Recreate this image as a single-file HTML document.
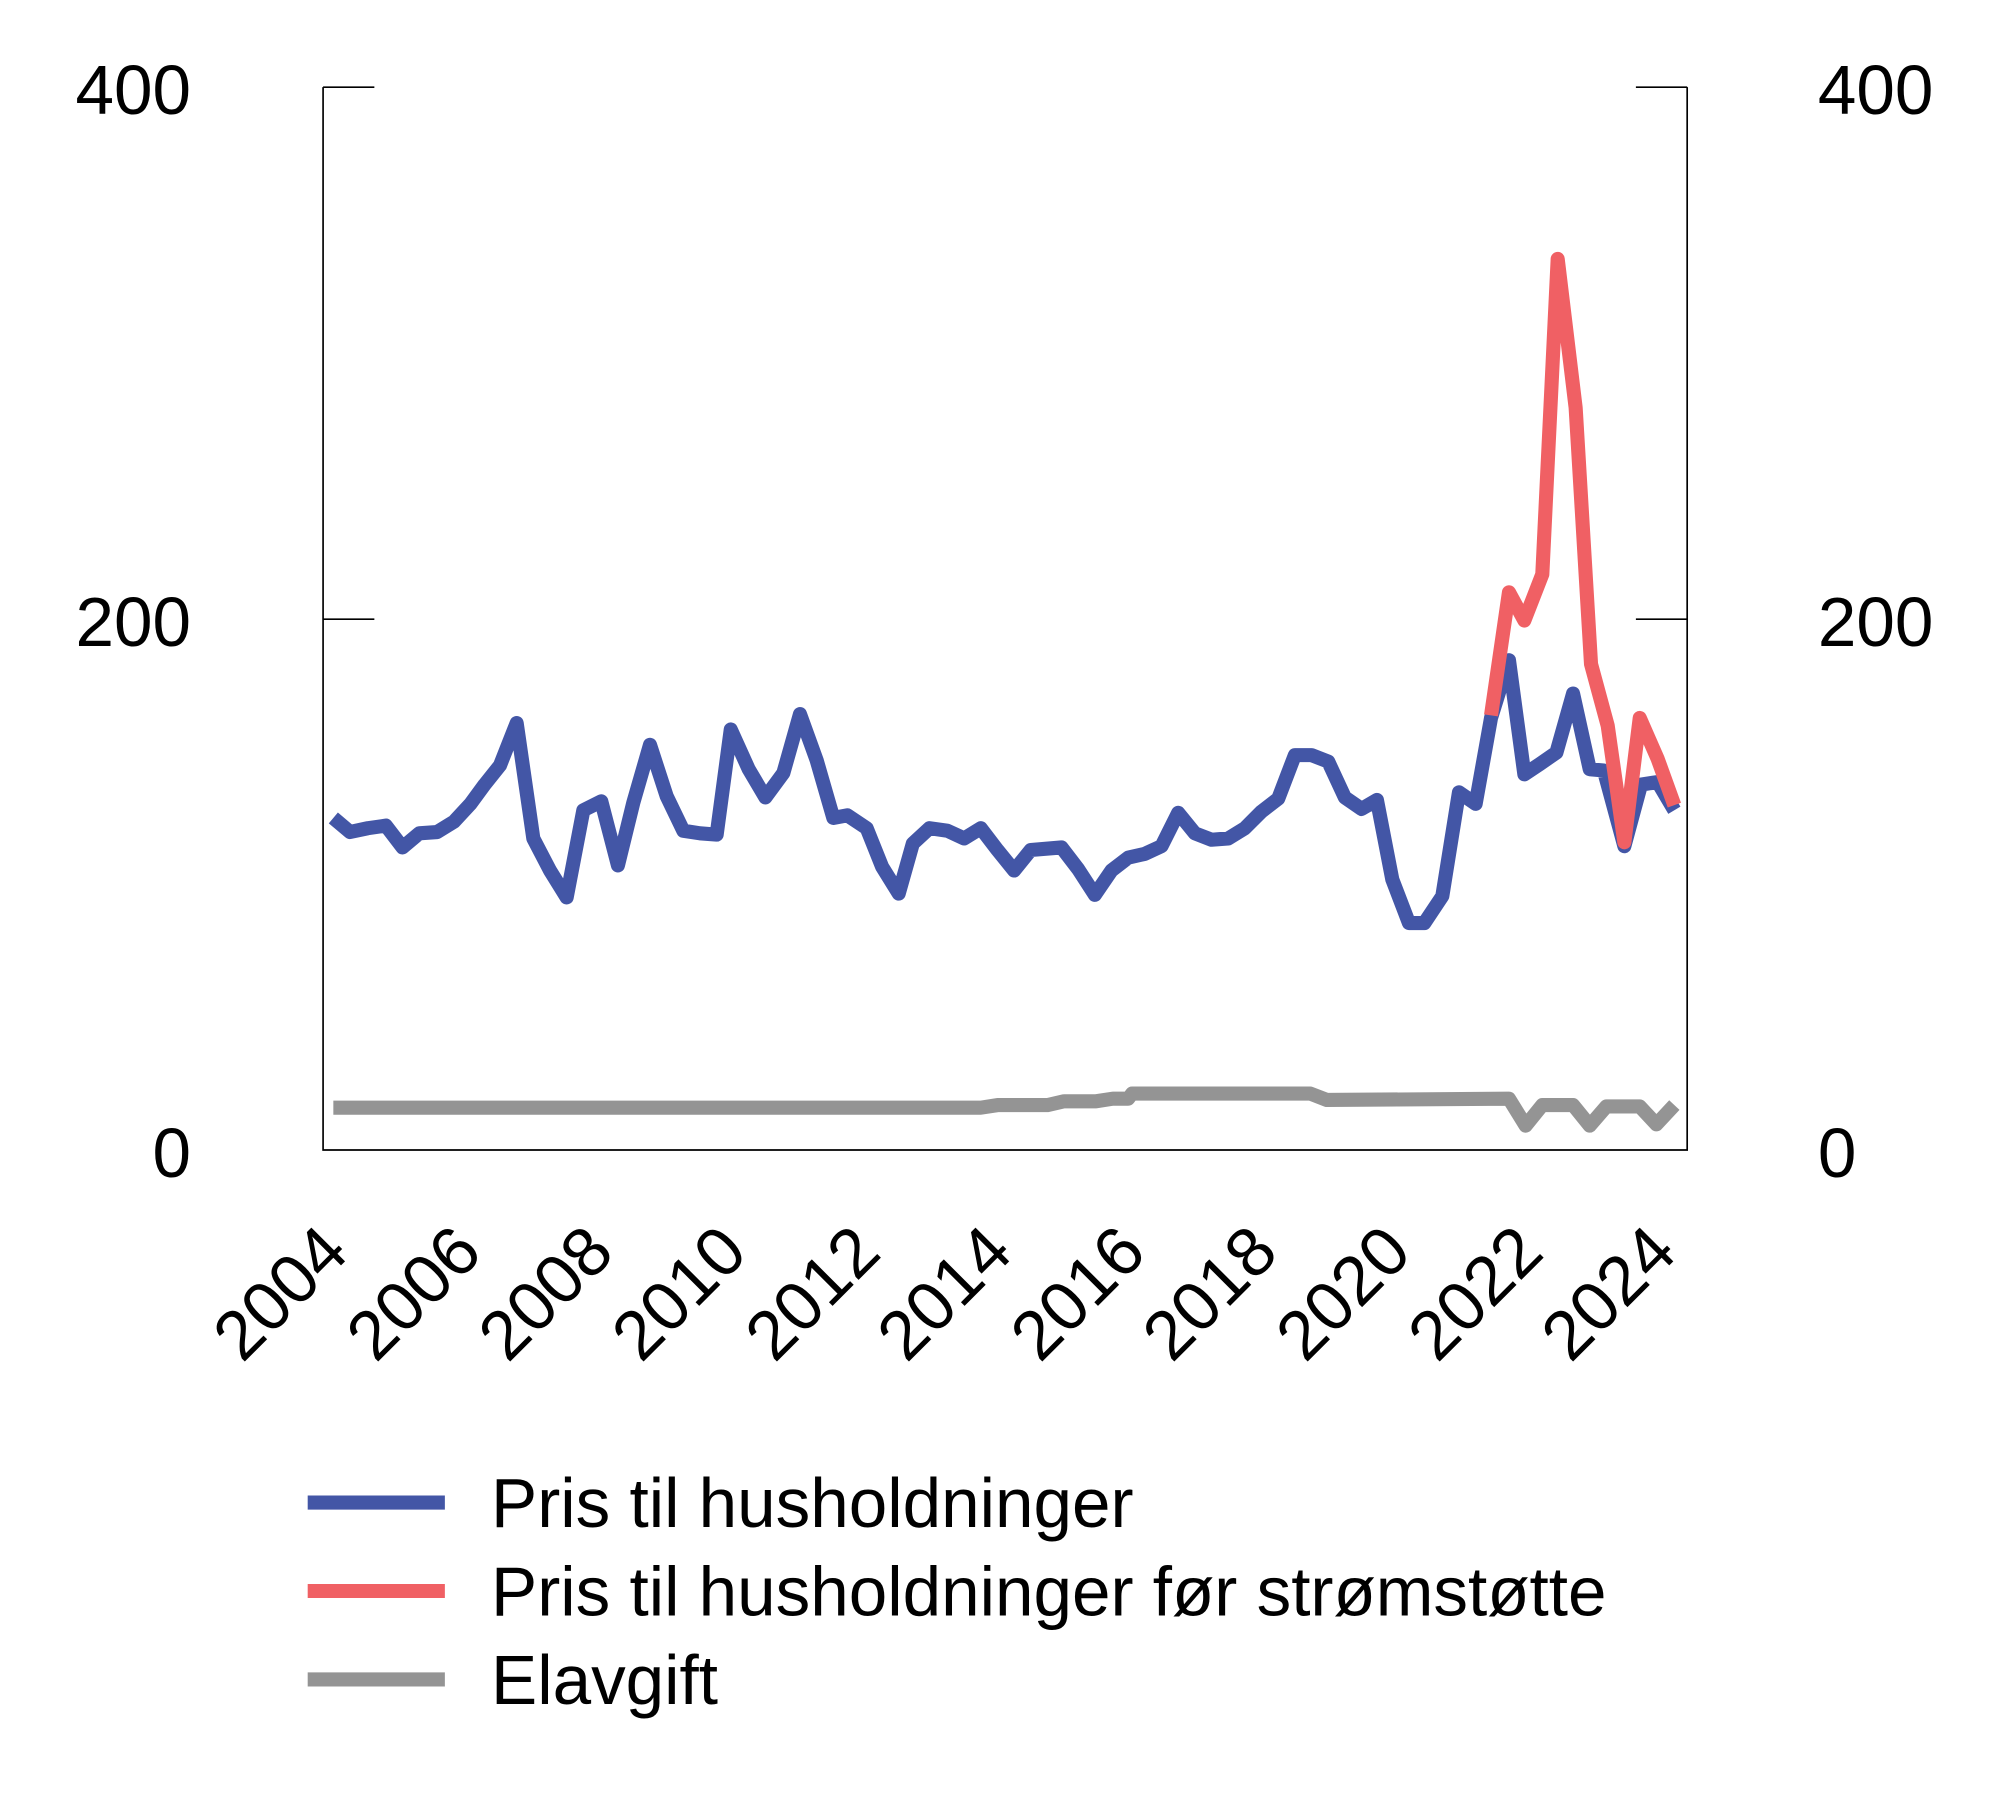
<!DOCTYPE html>
<html><head><style>body{margin:0;background:#fff}svg{display:block}</style></head><body>
<svg width="2000" height="1816" viewBox="0 0 1560 1416.5" preserveAspectRatio="none" xmlns="http://www.w3.org/2000/svg" font-family="Liberation Sans, sans-serif">
<g stroke="#000" stroke-width="1.3" fill="none">
<path d="M252,68V897H1316V68"/>
<path d="M252,68H292M252,483H292M1276,68H1316M1276,483H1316"/>
</g>
<g font-size="54" fill="#000">
<text x="149" y="89" text-anchor="end">400</text>
<text x="149" y="504" text-anchor="end">200</text>
<text x="149" y="918" text-anchor="end">0</text>
<text x="1418" y="89">400</text>
<text x="1418" y="504">200</text>
<text x="1418" y="918">0</text>
</g>
<g font-size="54" fill="#000" text-anchor="end">
<text transform="translate(274,979) rotate(-45)">2004</text>
<text transform="translate(378,979) rotate(-45)">2006</text>
<text transform="translate(481,979) rotate(-45)">2008</text>
<text transform="translate(585,979) rotate(-45)">2010</text>
<text transform="translate(689,979) rotate(-45)">2012</text>
<text transform="translate(792,979) rotate(-45)">2014</text>
<text transform="translate(896,979) rotate(-45)">2016</text>
<text transform="translate(999,979) rotate(-45)">2018</text>
<text transform="translate(1103,979) rotate(-45)">2020</text>
<text transform="translate(1206,979) rotate(-45)">2022</text>
<text transform="translate(1310,979) rotate(-45)">2024</text>
</g>
<g fill="none" stroke-width="11" stroke-linejoin="round">
<polyline stroke="#949494" points="260,864 765,864 778,862 817,862 830,859 855,859 868,857 880,857 883,853 1022,853 1035,858 1177,857 1190,878 1203,862 1227,862 1240,878 1253,863 1279,863 1292,877 1306,862"/>
<polyline stroke="#4356a6" points="260,638 273,649 287,646 301,644 314,661 327,650 341,649 354,641 367,627 378,612 390,597 403,564 416,654 429,679 442,700 455,632 469,625 482,675 494,626 507,581 520,621 533,648 546,650 559,651 570,569 584,600 597,622 611,603 624,557 637,593 650,638 661,636 676,646 688,676 701,697 712,658 725,646 739,648 752,654 765,646 778,663 791,679 804,663 828,661 841,678 854,698 867,679 880,669 893,666 906,660 919,634 932,650 945,655 958,654 971,646 984,633 997,623 1010,589 1023,589 1036,594 1049,622 1062,631 1074,624 1086,686 1099,720 1111,720 1125,699 1138,618 1151,627 1163,560 1177,515 1189,604 1201,596 1214,587 1227,541 1240,600 1251,601 1267,660 1280,612 1293,610 1306,632"/>
<polyline stroke="#f06064" points="1163,558 1177,462 1189,484 1203,448 1215,202 1229,318 1241,518 1254,566 1267,657 1279,560 1293,592 1306,628"/>
</g>
<g stroke-width="11">
<line x1="240" y1="1172" x2="347" y2="1172" stroke="#4356a6"/>
<line x1="240" y1="1241" x2="347" y2="1241" stroke="#f06064"/>
<line x1="240" y1="1310" x2="347" y2="1310" stroke="#949494"/>
</g>
<g font-size="54" fill="#000">
<text x="383" y="1191">Pris til husholdninger</text>
<text x="383" y="1260">Pris til husholdninger før strømstøtte</text>
<text x="383" y="1329">Elavgift</text>
</g>
</svg>
</body></html>
